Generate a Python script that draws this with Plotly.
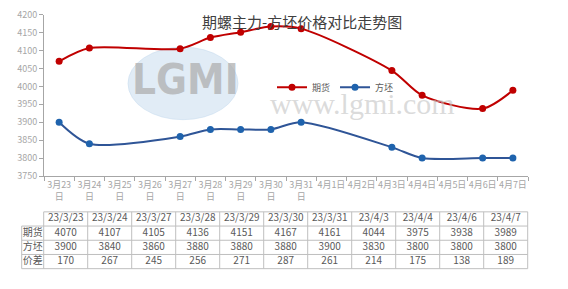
import plotly.graph_objects as go

categories = ["3月23日", "3月24日", "3月25日", "3月26日", "3月27日", "3月28日", "3月29日",
              "3月30日", "3月31日", "4月1日", "4月2日", "4月3日", "4月4日", "4月5日",
              "4月6日", "4月7日"]
tick_labels = ["3月23<br>日", "3月24<br>日", "3月25<br>日", "3月26<br>日", "3月27<br>日",
               "3月28<br>日", "3月29<br>日", "3月30<br>日", "3月31<br>日", "4月1日", "4月2日",
               "4月3日", "4月4日", "4月5日", "4月6日", "4月7日"]
futures = [4070, 4107, None, None, 4105, 4136, 4151, 4167, 4161, None, None, 4044, 3975, None, 3938, 3989]
billet = [3900, 3840, None, None, 3860, 3880, 3880, 3880, 3900, None, None, 3830, 3800, None, 3800, 3800]

table_dates = ["23/3/23", "23/3/24", "23/3/27", "23/3/28", "23/3/29", "23/3/30", "23/3/31",
               "23/4/3", "23/4/4", "23/4/6", "23/4/7"]
table_futures = [4070, 4107, 4105, 4136, 4151, 4167, 4161, 4044, 3975, 3938, 3989]
table_billet = [3900, 3840, 3860, 3880, 3880, 3880, 3900, 3830, 3800, 3800, 3800]
table_spread = [170, 267, 245, 256, 271, 287, 261, 214, 175, 138, 189]
row_names = ["期货", "方坯", "价差"]

W, H = 568, 289
FONT = "Noto Sans CJK SC"
RED = "#c00000"
BLUE_LINE = "#2f5597"
BLUE_MK = "#1f63ad"
AXIS = "#a6a6a6"
BORDER = "#bfbfbf"
TXT = "#595959"


def fx(x):
    return x / W


def fy(y):
    return 1 - y / H


fig = go.Figure()

fig.add_trace(go.Scatter(
    x=categories, y=futures, name="期货", mode="lines+markers",
    line=dict(color=RED, width=2, shape="spline", smoothing=0.8),
    marker=dict(color=RED, size=7), connectgaps=True))
fig.add_trace(go.Scatter(
    x=categories, y=billet, name="方坯", mode="lines+markers",
    line=dict(color=BLUE_LINE, width=2, shape="spline", smoothing=0.8),
    marker=dict(color=BLUE_MK, size=7), connectgaps=True))

# ---- data table drawn on its own hidden axes (x2 / y2) ----
ncol = len(table_dates)
row_vals = [table_futures, table_billet, table_spread]
row_y = [2, 1, 0]          # header row sits at y = 3
tx, ty, tt = [], [], []
for i, d in enumerate(table_dates):
    tx.append(i); ty.append(3); tt.append(d)
for r, name in enumerate(row_names):
    tx.append(-0.75); ty.append(row_y[r]); tt.append(name)
    for i in range(ncol):
        tx.append(i); ty.append(row_y[r]); tt.append(str(row_vals[r][i]))
fig.add_trace(go.Scatter(
    x=tx, y=ty, text=tt, mode="text", showlegend=False, hoverinfo="skip",
    textfont=dict(family=FONT, size=10, color=TXT), textposition="middle center",
    xaxis="x2", yaxis="y2"))

# borders
for yb in [2.5, 1.5, 0.5, -0.5]:
    fig.add_shape(type="line", xref="x2", yref="y2", x0=-1, x1=ncol - 0.5, y0=yb, y1=yb,
                  line=dict(color=BORDER, width=1))
fig.add_shape(type="line", xref="x2", yref="y2", x0=-0.5, x1=ncol - 0.5, y0=3.5, y1=3.5,
              line=dict(color=BORDER, width=1))
fig.add_shape(type="line", xref="x2", yref="y2", x0=-1, x1=-1, y0=-0.5, y1=2.5,
              line=dict(color=BORDER, width=1))
for i in range(ncol + 1):
    xb = i - 0.5
    fig.add_shape(type="line", xref="x2", yref="y2", x0=xb, x1=xb, y0=-0.5, y1=3.5,
                  line=dict(color=BORDER, width=1))

tl, tr, tt_, tb = 21.7, 527.7, 214.5, 274
ux = (tr - tl) / (ncol + 0.5)
uy = (tb - tt_) / 4
pad = 2

# ---- watermark ----
fig.add_shape(type="circle", xref="paper", yref="paper",
              x0=fx(128), x1=fx(238), y0=fy(118), y1=fy(42),
              fillcolor="rgba(196,218,238,0.5)", line=dict(color="rgba(196,218,238,0.5)", width=1),
              layer="below")
fig.add_annotation(text="<b>LGMI</b>", xref="paper", yref="paper", x=fx(185), y=fy(76),
                   xanchor="center", yanchor="middle", showarrow=False,
                   font=dict(family="DejaVu Sans Condensed", size=42, color="rgba(170,170,170,0.7)"))
fig.add_annotation(text="www.lgmi.com", xref="paper", yref="paper", x=fx(362), y=fy(101),
                   xanchor="center", yanchor="middle", showarrow=False,
                   font=dict(family="Liberation Serif", size=30, color="rgba(195,195,195,0.6)"))

# ---- title ----
fig.add_annotation(text="期螺主力-方坯价格对比走势图", xref="paper", yref="paper",
                   x=fx(302), y=fy(15), xanchor="center", yanchor="middle", showarrow=False,
                   font=dict(family=FONT, size=15, color="#404040"))

fig.update_layout(
    width=W, height=H, margin=dict(l=0, r=0, t=0, b=0),
    paper_bgcolor="white", plot_bgcolor="rgba(0,0,0,0)",
    showlegend=True,
    legend=dict(orientation="h", x=fx(272), y=fy(84), xanchor="left", yanchor="middle",
                bgcolor="rgba(0,0,0,0)", font=dict(family=FONT, size=9, color=TXT),
                itemwidth=30, tracegroupgap=0),
    xaxis=dict(domain=[fx(44), fx(528)], type="category", categoryorder="array",
               categoryarray=categories,
               tickvals=categories, ticktext=tick_labels, tickson="boundaries",
               tickangle=0, range=[-0.5, len(categories) - 0.5],
               showline=True, linecolor=AXIS, linewidth=1,
               ticks="outside", ticklen=4, tickcolor=AXIS,
               showgrid=False, zeroline=False,
               tickfont=dict(family=FONT, size=9, color=AXIS)),
    yaxis=dict(domain=[fy(177), fy(8)], range=[3750, 4200], dtick=50, tickmode="linear",
               showline=True, linecolor=AXIS, linewidth=1,
               ticks="outside", ticklen=4, tickcolor=AXIS,
               showgrid=False, zeroline=False,
               tickfont=dict(family=FONT, size=9, color=AXIS)),
    xaxis2=dict(domain=[fx(tl - pad), fx(tr + pad)], anchor="y2",
                range=[-1 - pad / ux, ncol - 0.5 + pad / ux], visible=False, fixedrange=True),
    yaxis2=dict(domain=[fy(tb + pad), fy(tt_ - pad)], anchor="x2",
                range=[-0.5 - pad / uy, 3.5 + pad / uy], visible=False, fixedrange=True),
)

fig.write_html("out.html")
